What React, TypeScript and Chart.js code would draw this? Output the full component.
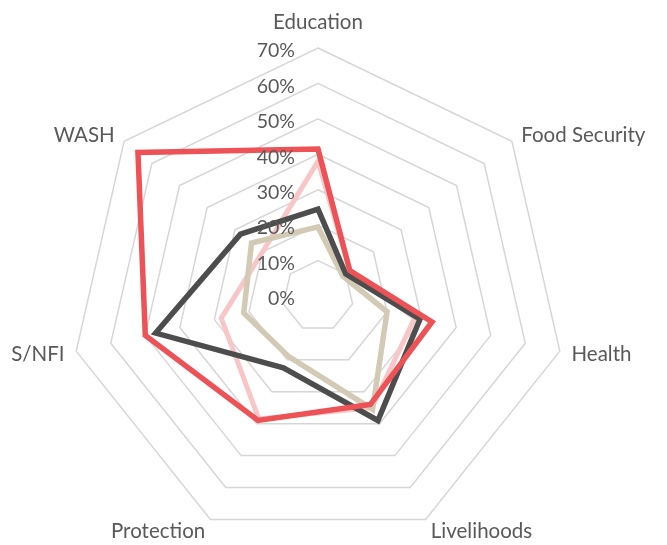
import React, { useEffect, useRef } from "react";
import { Chart, registerables } from "chart.js";

Chart.register(...registerables);

const categories = ["Education", "Food Security", "Health", "Livelihoods", "Protection", "S/NFI", "WASH"];
const redValues = [41.5, 11.5, 33, 34, 39, 50, 65];
const grayValues = [24.5, 10, 29.5, 39, 22.5, 47, 28];
const tanValues = [19.5, 9, 20, 35.5, 19, 21.5, 24];
const pinkValues = [38, 11.5, 28, 35, 38.5, 28, 20];
const tickValues = [0, 10, 20, 30, 40, 50, 60, 70];

const LABEL_FONT = "20.5px Lato";
const TICK_FONT = "19.5px Lato";
const TEXT_COLOR = "#595959";

const labelPlugin = {
  id: "excelLabels",
  afterDraw(chart: any) {
    const scale = chart.scales.r;
    const ctx = chart.ctx;
    ctx.save();
    ctx.fillStyle = TEXT_COLOR;
    // tick labels
    ctx.font = TICK_FONT;
    ctx.textAlign = "right";
    ctx.textBaseline = "middle";
    tickValues.forEach((v) => {
      const d = scale.getDistanceFromCenterForValue(v);
      ctx.fillText(v + "%", scale.xCenter - 23, scale.yCenter - d + 3);
    });
    // point labels
    ctx.font = LABEL_FONT;
    const outer = scale.drawingArea;
    categories.forEach((c, i) => {
      const p = scale.getPointPosition(i, outer + 12);
      const dx = p.x - scale.xCenter;
      const rel = dx / (outer + 12);
      ctx.textBaseline = "middle";
      if (Math.abs(rel) < 0.1) {
        ctx.textAlign = "center";
        const q = scale.getPointPosition(i, outer + 26);
        ctx.fillText(c, q.x, q.y);
      } else {
        ctx.textAlign = rel > 0 ? "left" : "right";
        ctx.fillText(c, p.x, p.y + 1);
      }
    });
    ctx.restore();
  },
};

export default function App() {
  const ref = useRef<HTMLCanvasElement>(null);
  useEffect(() => {
    if (!ref.current) return;
    const mk = (data: number[], color: string, width: number) => ({
      data,
      borderColor: color,
      backgroundColor: "transparent",
      borderWidth: width,
      pointRadius: 0,
      pointHoverRadius: 0,
      fill: false,
      borderJoinStyle: "miter" as const,
    });
    const chart = new Chart(ref.current, {
      type: "radar",
      data: {
        labels: categories,
        datasets: [
          mk(redValues, "#EC5256", 5.5),
          mk(grayValues, "#4D4D4D", 5.5),
          mk(tanValues, "#D3CAB6", 5.5),
          mk(pinkValues, "#F8C6C6", 5),
        ],
      },
      options: {
        animation: false,
        responsive: false,
        devicePixelRatio: 1,
        layout: { padding: { left: 66, right: 97, top: 48, bottom: -7 } },
        plugins: { legend: { display: false }, tooltip: { enabled: false } },
        scales: {
          r: {
            min: 0,
            max: 70,
            ticks: { stepSize: 10, display: false },
            pointLabels: { display: false },
            angleLines: { display: false },
            grid: { color: "#D6D6D6", lineWidth: 1.5 },
          },
        },
      },
      plugins: [labelPlugin],
    });
    return () => chart.destroy();
  }, []);
  return (
    <div style={{ position: "fixed", left: 0, top: 0, width: 667, height: 545, background: "#fff" }}>
      <canvas ref={ref} width={667} height={545} />
    </div>
  );
}
